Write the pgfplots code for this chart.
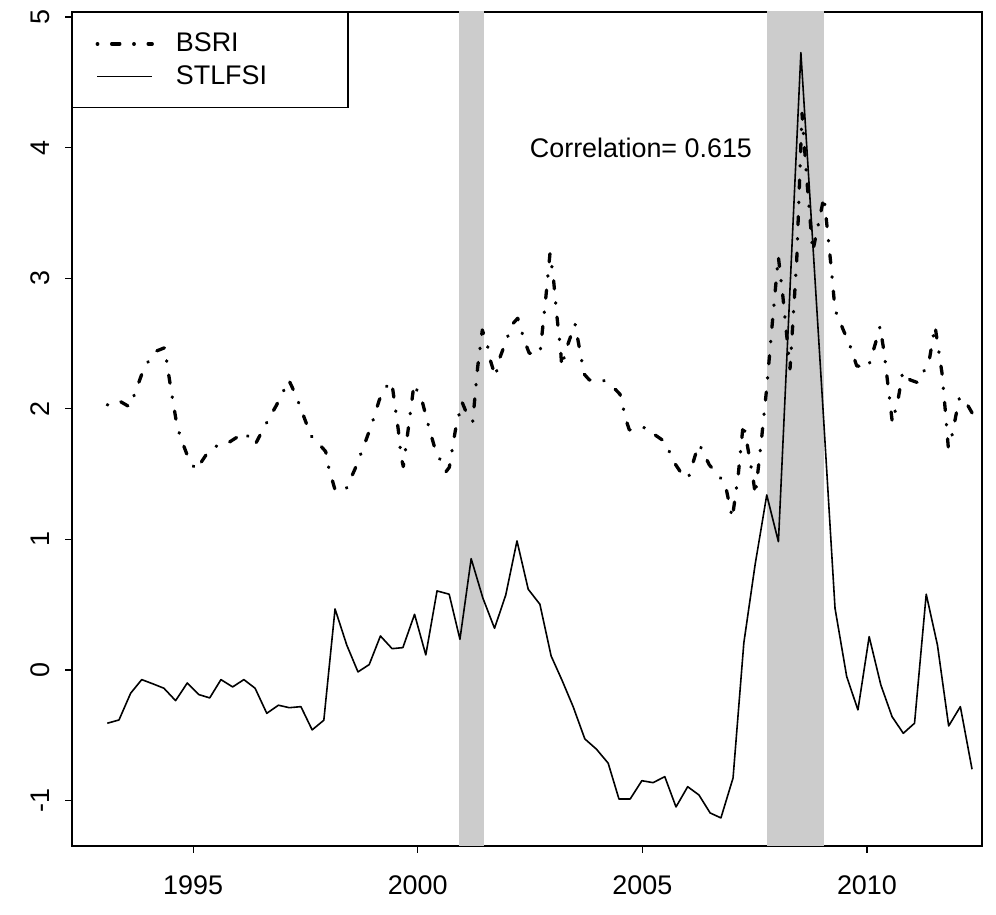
\documentclass[border=0pt]{standalone}
\usepackage{fontspec}
\setmainfont{Liberation Sans}
\usepackage{pgfplots}
\pgfplotsset{compat=1.18}
\definecolor{band}{RGB}{204,204,204}
\newcommand{\rfont}{\fontsize{13.45}{16}\selectfont}
\begin{document}
\begin{tikzpicture}
\begin{axis}[
  at={(0,0)}, anchor=south west,
  scale only axis, width=455pt, height=417pt,
  xmin=1992.304, xmax=2012.562, ymin=-1.348, ymax=5.038,
  xtick={1995,2000,2005,2010}, ytick={-1,0,1,2,3,4,5},
  tick pos=left, tick align=outside, major tick length=3.5pt,
  axis line style={line width=0.6pt},
  every tick/.style={line width=0.6pt, black},
  /pgf/number format/assume math mode=true,
  /pgf/number format/1000 sep={},
  tick label style={font=\rfont},
  xticklabel style={anchor=north, inner sep=0pt, yshift=-11.2pt},
  yticklabel style={xshift=-7.5pt, rotate=90, anchor=south, inner sep=0pt},
  legend style={at={(0,1)}, anchor=north west, draw=black, line width=0.6pt, fill=white,
    inner xsep=11.5pt, inner ysep=10.2pt, row sep=5.4pt, column sep=11pt,
    font=\rfont, nodes={inner sep=0pt}},
  legend cell align=left,
  legend image code/.code={\draw[#1] (0pt,0pt) -- (27.5pt,0pt);},
]
\addplot[fill=band, draw=none, forget plot] coordinates {(2000.919,-2) (2001.469,-2) (2001.469,6) (2000.919,6)} -- cycle;
\addplot[fill=band, draw=none, forget plot] coordinates {(2007.769,-2) (2009.052,-2) (2009.052,6) (2007.769,6)} -- cycle;

\addplot[black, line width=1.65pt, line cap=round, line join=round,
  dash pattern=on 0.25pt off 6.95pt on 4.1pt off 6.95pt] coordinates {
(1993.090,2.029) (1993.357,2.060) (1993.584,2.014) (1993.691,2.106) (1993.878,2.284)
(1994.012,2.368) (1994.190,2.443) (1994.374,2.468) (1994.419,2.345) (1994.501,2.162)
(1994.635,1.884) (1994.715,1.786) (1994.903,1.613) (1995.065,1.531) (1995.303,1.654)
(1995.466,1.710) (1995.733,1.728) (1995.940,1.774) (1996.156,1.817) (1996.378,1.723)
(1996.585,1.861) (1996.846,2.021) (1996.979,2.111) (1997.128,2.221) (1997.209,2.162)
(1997.329,2.065) (1997.520,1.889) (1997.609,1.799) (1997.803,1.730) (1997.952,1.672)
(1998.003,1.570) (1998.152,1.388) (1998.388,1.371) (1998.604,1.539) (1998.804,1.717)
(1998.989,1.894) (1999.145,2.067) (1999.272,2.159) (1999.421,2.207) (1999.495,2.024)
(1999.568,1.838) (1999.628,1.639) (1999.679,1.557) (1999.813,1.907) (1999.918,2.190)
(2000.102,2.054) (2000.245,1.863) (2000.392,1.685) (2000.630,1.518) (2000.704,1.552)
(2000.837,1.832) (2000.986,2.052) (2001.104,1.953) (2001.224,1.901) (2001.336,2.322)
(2001.438,2.603) (2001.558,2.476) (2001.610,2.379) (2001.728,2.246) (2001.825,2.387)
(2002.017,2.565) (2002.128,2.655) (2002.226,2.693) (2002.382,2.514) (2002.484,2.425)
(2002.723,2.425) (2002.841,2.812) (2002.945,3.191) (2003.019,3.007) (2003.094,2.724)
(2003.183,2.443) (2003.206,2.322) (2003.317,2.468) (2003.502,2.649) (2003.651,2.368)
(2003.687,2.272) (2003.820,2.221) (2004.118,2.221) (2004.341,2.169) (2004.504,2.111)
(2004.637,1.914) (2004.711,1.838) (2004.860,1.843) (2005.082,1.858) (2005.260,1.805)
(2005.499,1.748) (2005.721,1.583) (2005.884,1.498) (2006.024,1.468) (2006.180,1.646)
(2006.269,1.728) (2006.492,1.570) (2006.841,1.430) (2007.004,1.162) (2007.137,1.498)
(2007.248,1.889) (2007.337,1.723) (2007.471,1.455) (2007.516,1.340) (2007.658,1.782)
(2007.769,2.157) (2007.887,2.629) (2008.028,3.165) (2008.126,2.871) (2008.288,2.305)
(2008.437,3.132) (2008.555,4.263) (2008.660,3.765) (2008.793,3.203) (2009.045,3.624)
(2009.216,3.042) (2009.290,2.757) (2009.490,2.590) (2009.601,2.506) (2009.773,2.328)
(2010.031,2.318) (2010.180,2.489) (2010.292,2.629) (2010.381,2.437) (2010.477,2.157)
(2010.566,1.894) (2010.699,2.080) (2010.797,2.284) (2010.960,2.221) (2011.131,2.200)
(2011.383,2.361) (2011.516,2.634) (2011.672,2.272) (2011.745,1.985) (2011.812,1.702)
(2011.895,1.799) (2012.057,2.080) (2012.146,2.085) (2012.355,1.960)
};
\addlegendentry{\makebox[74.5pt][l]{BSRI}}

\addplot[black, line width=0.8pt, line join=round] coordinates {
(1993.090,-0.408) (1993.350,-0.383) (1993.610,-0.178) (1993.856,-0.074) (1994.110,-0.107)
(1994.350,-0.140) (1994.610,-0.235) (1994.870,-0.100) (1995.130,-0.189) (1995.370,-0.214)
(1995.620,-0.074) (1995.880,-0.130) (1996.130,-0.074) (1996.380,-0.140) (1996.640,-0.332)
(1996.900,-0.270) (1997.140,-0.289) (1997.400,-0.281) (1997.650,-0.459) (1997.910,-0.385)
(1998.160,0.467) (1998.420,0.191) (1998.670,-0.015) (1998.920,0.041) (1999.170,0.260)
(1999.430,0.163) (1999.670,0.171) (1999.930,0.426) (2000.180,0.115) (2000.430,0.605)
(2000.700,0.580) (2000.940,0.235) (2001.190,0.852) (2001.450,0.551) (2001.710,0.319)
(2001.960,0.574) (2002.210,0.988) (2002.460,0.618) (2002.720,0.503) (2002.970,0.107)
(2003.210,-0.077) (2003.460,-0.281) (2003.720,-0.528) (2003.980,-0.607) (2004.240,-0.714)
(2004.480,-0.988) (2004.730,-0.988) (2004.990,-0.848) (2005.240,-0.863) (2005.500,-0.817)
(2005.750,-1.049) (2006.010,-0.894) (2006.260,-0.957) (2006.510,-1.095) (2006.750,-1.133)
(2007.020,-0.827) (2007.260,0.207) (2007.510,0.804) (2007.770,1.340) (2008.030,0.982)
(2008.280,2.860) (2008.530,4.727) (2008.780,3.350) (2009.040,1.900) (2009.290,0.472)
(2009.550,-0.051) (2009.800,-0.306) (2010.050,0.255) (2010.310,-0.115) (2010.560,-0.358)
(2010.810,-0.485) (2011.060,-0.408) (2011.320,0.580) (2011.570,0.191) (2011.820,-0.429)
(2012.080,-0.281) (2012.340,-0.760)
};
\addlegendentry{\makebox[74.5pt][l]{STLFSI}}

\node[font=\rfont, inner sep=0pt, anchor=center] at (axis cs:2004.97,4.0) {Correlation= 0.615};
\end{axis}
\pgfresetboundingbox
\path (-36pt,-34.5pt) rectangle (462pt,423pt);
\end{tikzpicture}
\end{document}
